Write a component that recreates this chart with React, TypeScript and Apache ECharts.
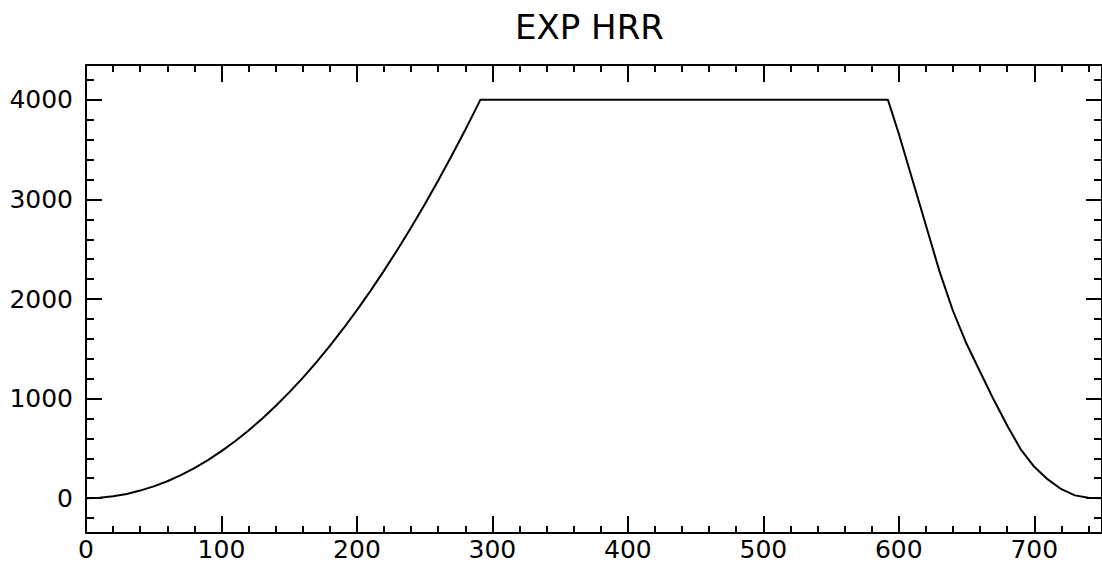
import React, { useEffect, useRef } from "react";
import * as echarts from "echarts";

const TITLE = "EXP HRR";

// time (s)
const TIME = [
  0, 10, 20, 30, 40, 50, 60, 70, 80, 90, 100, 110, 120, 130, 140, 150, 160, 170,
  180, 190, 200, 210, 220, 230, 240, 250, 260, 270, 280, 290, 291, 592, 600,
  610, 620, 630, 640, 650, 660, 670, 680, 690, 700, 710, 720, 730, 740, 750,
];
// heat release rate
const HRR = [
  0, 5, 19, 42, 76, 118, 170, 231, 302, 382, 472, 571, 680, 798, 925, 1062,
  1208, 1364, 1529, 1704, 1888, 2082, 2285, 2497, 2719, 2950, 3191, 3441, 3700,
  3970, 4000, 4000, 3660, 3200, 2740, 2280, 1880, 1550, 1270, 990, 730, 490,
  315, 188, 90, 28, 4, 0,
];

const X_MIN = 0;
const X_MAX = 750;
const X_STEP = 100;
const Y_MIN = -350;
const Y_MAX = 4350;

export default function App() {
  const ref = useRef<HTMLDivElement>(null);
  useEffect(() => {
    if (!ref.current) return;
    const chart = echarts.init(ref.current, undefined, { renderer: "svg" });
    const font = "DejaVu Sans";
    const lineStyle = { color: "#000", width: 2 };
    const fmt = (v: number) => String(v);
    const xBase = (pos: "bottom" | "top", showLabel: boolean) => ({
      type: "value",
      position: pos,
      min: X_MIN,
      max: X_MAX,
      interval: X_STEP,
      axisLine: { show: true, onZero: false, lineStyle },
      axisTick: { show: true, inside: true, length: 17, lineStyle },
      minorTick: { show: true, splitNumber: 5, length: 7, lineStyle },
      splitLine: { show: false },
      minorSplitLine: { show: false },
      axisLabel: {
        show: showLabel,
        fontSize: 25,
        fontFamily: font,
        color: "#000",
        margin: 4,
        showMaxLabel: false,
        formatter: fmt,
      },
    });
    const yBase = (pos: "left" | "right", showLabel: boolean) => ({
      type: "value",
      position: pos,
      min: Y_MIN,
      max: Y_MAX,
      splitNumber: 5,
      axisLine: { show: true, onZero: false, lineStyle },
      axisTick: { show: true, inside: true, length: 16, lineStyle },
      minorTick: { show: true, splitNumber: 5, length: 8, lineStyle },
      splitLine: { show: false },
      minorSplitLine: { show: false },
      axisLabel: {
        show: showLabel,
        fontSize: 25,
        fontFamily: font,
        color: "#000",
        margin: 13,
        showMinLabel: false,
        showMaxLabel: false,
        formatter: fmt,
      },
    });
    chart.setOption({
      animation: false,
      backgroundColor: "#fff",
      title: {
        text: TITLE,
        left: 515,
        top: 10,
        padding: 0,
        textStyle: {
          fontSize: 34,
          fontWeight: "normal",
          fontFamily: font,
          color: "#000",
        },
      },
      grid: { left: 86, top: 65, width: 1019, height: 468 },
      xAxis: [xBase("bottom", true), xBase("top", false)],
      yAxis: [yBase("left", true), yBase("right", false)],
      series: [
        {
          type: "line",
          xAxisIndex: 0,
          yAxisIndex: 0,
          data: TIME.map((t, i) => [t, HRR[i]]),
          showSymbol: false,
          symbol: "none",
          lineStyle: { color: "#000", width: 2 },
        },
      ],
    });
    return () => chart.dispose();
  }, []);
  return (
    <div
      ref={ref}
      style={{ position: "fixed", left: 0, top: 0, width: 1102, height: 567, background: "#fff" }}
    />
  );
}
